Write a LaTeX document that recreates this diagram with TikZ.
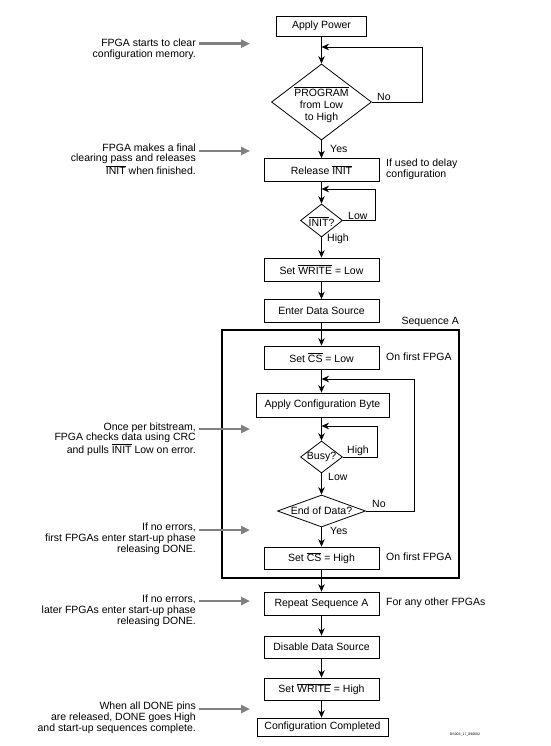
\documentclass[tikz,border=0pt]{standalone}
\usepackage{fontspec}
\setmainfont{Liberation Sans}
\usetikzlibrary{shapes.geometric,arrows.meta}
\definecolor{arrgray}{gray}{0.5}
\newcommand{\ovl}[1]{$\overline{\mbox{#1}}$}
\begin{document}
\begin{tikzpicture}[x=1pt,y=-1pt,
 font=\fontsize{10.5}{10.8}\selectfont,
 box/.style={draw,line width=0.8pt,minimum width=115pt,minimum height=23pt,inner sep=0pt},
 dia/.style={draw,diamond,line width=0.8pt,inner sep=0pt},
 arr/.style={line width=0.8pt,-{Stealth[length=7.5pt,width=6.5pt]}},
 note/.style={align=right,anchor=east,inner sep=0pt},
 side/.style={align=left,anchor=west,inner sep=0pt},
 lab/.style={anchor=west,inner sep=0pt},
 garr/.style={line width=2.5pt,draw=arrgray,-{Triangle[length=9pt,width=8pt]}}
]
\useasboundingbox (0,0) rectangle (550,746);

% sequence frame
\node[draw,line width=2.2pt,minimum width=237pt,minimum height=248pt,inner sep=0pt] (seq) at (340.5,454) {};
\node[anchor=east,inner sep=0pt] (seqlab) at (459,322) {Sequence A};

% main nodes
\node[box,minimum width=90pt,minimum height=20pt] (ap) at (321.5,26) {Apply Power};
\node[dia,minimum width=100pt,minimum height=76pt,aspect=1.3] (d1) at (321.5,102) {};
\node[align=center,inner sep=0pt] (d1t) at (321.5,104.5) {\ovl{PROGRAM}\\[1.5pt]from Low\\[1pt]to High};
\node[box] (ri) at (321.5,170) {Release \ovl{INIT}};
\node[dia,minimum width=42pt,minimum height=33pt,aspect=1.3] (d2) at (321.5,220.5) {};
\node[inner sep=0pt] (d2t) at (321.5,221.5) {\ovl{INIT}?};
\node[box] (wl) at (321.5,269.5) {Set \ovl{WRITE} = Low};
\node[box] (eds) at (321.5,311) {Enter Data Source};
\node[box] (csl) at (321.5,357.5) {Set \ovl{CS} = Low};
\node[box,minimum width=133pt,minimum height=24pt] (acb) at (322.5,405) {Apply Configuration Byte};
\node[dia,minimum width=42pt,minimum height=32pt,aspect=1.3] (busy) at (321.5,457) {Busy?};
\node[dia,minimum width=88pt,minimum height=32pt,aspect=2.75] (eod) at (321.5,511) {End of Data?};
\node[box,minimum height=22pt] (csh) at (321.5,558) {Set \ovl{CS} = High};
\node[box] (rsa) at (321.5,603.5) {Repeat Sequence A};
\node[box,minimum height=22pt] (dds) at (321.5,647) {Disable Data Source};
\node[box,minimum height=22pt] (wh) at (321.5,689) {Set \ovl{WRITE} = High};
\node[box,minimum width=131pt,minimum height=18pt] (cc) at (322.5,727) {Configuration Completed};

% straight connectors
\draw[arr] (ap) -- (d1);
\draw[arr] (d1) -- (ri);
\draw[arr] (ri) -- (d2);
\draw[arr] (d2) -- (wl);
\draw[arr] (wl) -- (eds);
\draw[arr] (eds) -- (csl);
\draw[arr] (csl.south) -- (csl.south |- acb.north);
\draw[arr] (acb.south -| busy.north) -- (busy);
\draw[arr] (busy) -- (eod);
\draw[arr] (eod) -- (csh);
\draw[arr] (csh) -- (rsa);
\draw[arr] (rsa) -- (dds);
\draw[arr] (dds) -- (wh);
\draw[arr] (wh.south) -- (wh.south |- cc.north);

% loops
\coordinate (j1) at (321.5,47);
\coordinate (j2) at (321.5,189);
\coordinate (j3) at (321.5,426);
\coordinate (j4) at (321.5,379);
\draw[arr] (d1.east) -- ++(50,0) |- (j1);
\draw[arr] (d2.east) -- ++(32,0) |- (j2);
\draw[arr] (busy.east) -- ++(34,0) |- (j3);
\draw[arr] (eod.east) -- ++(48.5,0) |- (j4);

% branch labels
\node[lab] (l1) at (377,97) {No};
\node[lab] (l2) at (330,149) {Yes};
\node[lab] (l3) at (348,216) {Low};
\node[lab] (l4) at (327,239) {High};
\node[lab] (l5) at (347,451) {High};
\node[lab] (l6) at (328,477) {Low};
\node[lab] (l7) at (372,504) {No};
\node[lab] (l8) at (330,531) {Yes};

% side notes
\node[side] (s1) at (386,169.5) {If used to delay\\configuration};
\node[side] (s2) at (386,357) {On first FPGA};
\node[side] (s3) at (386,557) {On first FPGA};
\node[side] (s4) at (386,603) {For any other FPGAs};

% left notes
\node[note] (n1) at (196,49) {FPGA starts to clear\\configuration memory.};
\node[note] (n2) at (196,159) {FPGA makes a final\\clearing pass and releases\\\ovl{INIT} when finished.};
\node[note] (n3) at (196,439) {Once per bitstream,\\FPGA checks data using CRC\\and pulls \ovl{INIT} Low on error.};
\node[note] (n4) at (196,539) {If no errors,\\first FPGAs enter start-up phase\\releasing DONE.};
\node[note] (n5) at (196,611) {If no errors,\\later FPGAs enter start-up phase\\releasing DONE.};
\node[note] (n6) at (196,718) {When all DONE pins\\are released, DONE goes High\\and start-up sequences complete.};

% grey arrows
\coordinate (g1) at (250,43.7);
\coordinate (g2) at (250,151);
\coordinate (g3) at (250,429);
\coordinate (g4) at (250,530);
\coordinate (g5) at (250,601);
\coordinate (g6) at (250,709);
\draw[garr] (n1.east |- g1) ++(3,0) -- (g1);
\draw[garr] (n2.east |- g2) ++(3,0) -- (g2);
\draw[garr] (n3.east |- g3) ++(3,0) -- (g3);
\draw[garr] (n4.east |- g4) ++(3,0) -- (g4);
\draw[garr] (n5.east |- g5) ++(3,0) -- (g5);
\draw[garr] (n6.east |- g6) ++(3,0) -- (g6);

% figure id
\node[font=\fontsize{3.5}{4}\selectfont,inner sep=0pt] (fid) at (465,735) {DS003\_17\_090602};
\end{tikzpicture}
\end{document}
